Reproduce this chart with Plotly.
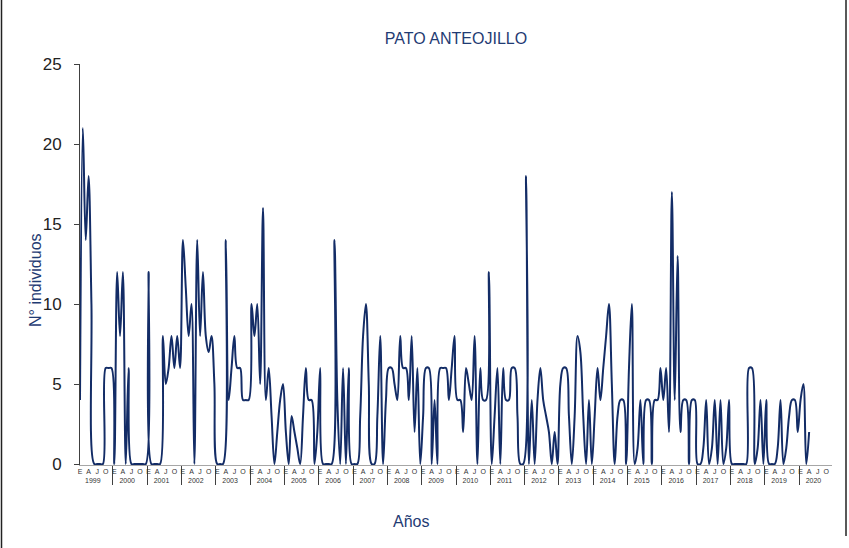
import plotly.graph_objects as go

# ---- data (monthly counts, Jan 1999 - Apr 2020) ----
years = [str(y) for y in range(1999, 2021)]
month_labels = ["E", "F", "M", "A", "My", "Jn", "J", "Ag", "S", "O", "N", "D"]

c1999 = [4, 21, 14, 18, 10, 0, 0, 0, 0, 6, 6, 6]
c2000 = [0, 12, 8, 12, 0, 6, 0, 0, 0, 0, 0, 0]
c2001 = [12, 0, 0, 0, 0, 8, 5, 6, 8, 6, 8, 6]
c2002 = [14, 11, 8, 10, 0, 14, 8, 12, 8, 7, 8, 5]
c2003 = [0, 0, 0, 14, 4, 6, 8, 6, 6, 4, 4, 4]
c2004 = [10, 8, 10, 5, 16, 4, 6, 3, 0, 2, 4, 5]
c2005 = [2, 0, 3, 2, 1, 0, 3, 6, 4, 4, 0, 2]
c2006 = [6, 0, 0, 0, 0, 14, 4, 0, 6, 0, 6, 0]
c2007 = [0, 0, 3, 8, 10, 5, 0, 0, 3, 8, 0, 4]
c2008 = [6, 6, 5, 4, 8, 6, 6, 4, 8, 2, 6, 0]
c2009 = [3, 6, 6, 0, 4, 0, 6, 6, 6, 4, 6, 8]
c2010 = [4, 4, 2, 6, 5, 4, 8, 0, 6, 4, 4, 12]
c2011 = [0, 3, 6, 0, 6, 4, 4, 6, 6, 3, 0, 0]
c2012 = [18, 0, 4, 0, 4, 6, 4, 3, 2, 0, 2, 0]
c2013 = [5, 6, 6, 3, 0, 3, 8, 7, 3, 0, 4, 0]
c2014 = [3, 6, 4, 6, 8, 10, 5, 0, 3, 4, 4, 0]
c2015 = [6, 10, 0, 1, 4, 0, 4, 4, 0, 4, 4, 6]
c2016 = [4, 6, 2, 17, 4, 13, 2, 4, 4, 0, 4, 4]
c2017 = [0, 0, 1, 4, 0, 1, 4, 0, 4, 0, 1, 4]
c2018 = [0, 0, 0, 0, 0, 0, 6, 6, 0, 1, 4, 0]
c2019 = [4, 0, 0, 0, 1, 4, 0, 1, 3, 4, 4, 2]
c2020 = [4, 5, 0, 2, None, None, None, None, None, None, None, None]

series = [c1999, c2000, c2001, c2002, c2003, c2004, c2005, c2006, c2007,
          c2008, c2009, c2010, c2011, c2012, c2013, c2014, c2015, c2016,
          c2017, c2018, c2019, c2020]

xs_year, xs_month, ys = [], [], []
for yr, vals in zip(years, series):
    for m, v in zip(month_labels, vals):
        xs_year.append(yr)
        xs_month.append(m)
        ys.append(v)

NAVY = "#132C66"
TXT = "#1F3B73"
FONT = "Liberation Sans, Arial, sans-serif"

fig = go.Figure()
fig.add_trace(go.Scatter(
    x=[xs_year, xs_month], y=ys, mode="lines",
    line=dict(color=NAVY, width=2, shape="spline", smoothing=1),
    connectgaps=False, showlegend=False, hoverinfo="skip"))

fig.update_layout(
    width=849, height=548,
    margin=dict(l=80, r=17, t=64, b=83),
    paper_bgcolor="white", plot_bgcolor="white",
    font=dict(family=FONT, color="#222"),
    title=dict(text="PATO ANTEOJILLO", x=0.5, xref="paper", xanchor="center",
               y=1 - 38 / 548, yref="container", yanchor="middle",
               font=dict(size=16, color=TXT, family=FONT)),
    xaxis=dict(type="multicategory", tickmode="linear", tick0=0, dtick=3,
               tickangle=0,
               showgrid=False, zeroline=False, showline=True,
               linecolor="#A6A6A6", linewidth=1, ticks="",
               tickfont=dict(size=7, color="#333", family=FONT),
               showdividers=True, dividercolor="#404040", dividerwidth=1),
    yaxis=dict(range=[-0.06, 25], tickmode="linear", tick0=0, dtick=5,
               showgrid=False, zeroline=False, showline=True,
               linecolor="#404040", linewidth=1, ticks="outside",
               ticklen=5, tickcolor="#404040", ticklabelstandoff=9,
               tickfont=dict(size=17, color="#222", family=FONT)),
    annotations=[
        dict(text="N° individuos", xref="paper", yref="paper",
             x=(35 - 80) / 752, y=(465 - 280) / 401, textangle=-90,
             showarrow=False, xanchor="center", yanchor="middle",
             font=dict(size=16, color=TXT, family=FONT)),
        dict(text="Años", xref="paper", yref="paper",
             x=(411 - 80) / 752, y=(465 - 521) / 401,
             showarrow=False, xanchor="center", yanchor="middle",
             font=dict(size=16, color=TXT, family=FONT)),
    ],
    shapes=[
        dict(type="line", xref="paper", yref="paper",
             x0=(1.5 - 80) / 752, x1=(1.5 - 80) / 752,
             y0=(465 - 548) / 401, y1=465 / 401,
             line=dict(color="#222", width=1.5)),
        dict(type="line", xref="paper", yref="paper",
             x0=(846 - 80) / 752, x1=(846 - 80) / 752,
             y0=(465 - 536) / 401, y1=465 / 401,
             line=dict(color="#222", width=1.5)),
    ],
)

fig.write_html("out.html", config={"displayModeBar": False},
               post_script="document.body.style.margin='0';document.body.style.overflow='hidden';")
